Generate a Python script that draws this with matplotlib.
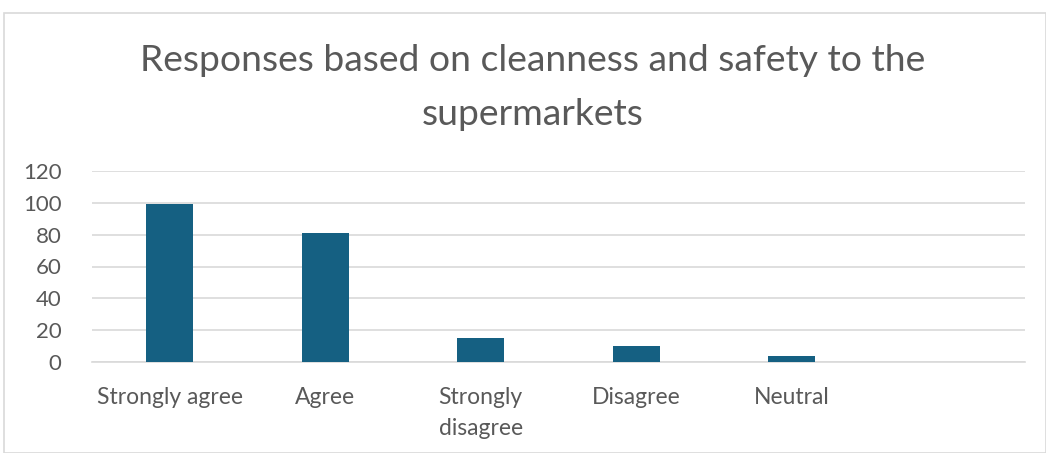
import matplotlib
matplotlib.use("Agg")
import matplotlib.pyplot as plt
from matplotlib.patches import Rectangle

categories = ["Strongly agree", "Agree", "Strongly\ndisagree", "Disagree", "Neutral", ""]
values = [99, 81, 15, 10, 4, None]
yticks = [0, 20, 40, 60, 80, 100, 120]
title = "Responses based on cleanness and safety to the\nsupermarkets"

plt.rcParams['font.family'] = ['Lato', 'DejaVu Sans']

W, H = 1046, 453
fig = plt.figure(figsize=(W/100, H/100), dpi=100)
fig.patch.set_facecolor('white')

# chart border
fig.patches.append(Rectangle((4/W, 0), (W-4)/W, (H-13)/H, transform=fig.transFigure,
                             fill=False, edgecolor='#d9d9d9', linewidth=1.2))

left, right, top, bottom = 92, 1025, 171, 362
ax = fig.add_axes([left/W, 1-bottom/H, (right-left)/W, (bottom-top)/H])

xs = list(range(len(categories)))
bar_x = [x for x, v in zip(xs, values) if v is not None]
bar_v = [v for v in values if v is not None]
ax.bar(bar_x, bar_v, width=0.3, color='#156082', zorder=3)

ax.set_xlim(-0.5, len(categories) - 0.5)
ax.set_ylim(0, 120)
ax.set_yticks(yticks)
ax.set_xticks(xs)
ax.set_xticklabels(categories, linespacing=1.6)
ax.tick_params(axis='x', length=0, labelsize=16.5, labelcolor='#595959', pad=18)
ax.tick_params(axis='y', length=0, labelsize=16, labelcolor='#595959', pad=22)
ax.grid(axis='y', color='#d9d9d9', linewidth=1.2, zorder=0)
for s in ax.spines.values():
    s.set_visible(False)
ax.spines['bottom'].set_visible(True)
ax.spines['bottom'].set_color('#d9d9d9')
ax.spines['bottom'].set_linewidth(1.2)

fig.text(533/W, 1-87.5/H, title, ha='center', va='center',
         fontsize=26.8, color='#595959', linespacing=1.78)

fig.savefig('out.png', dpi=100)
